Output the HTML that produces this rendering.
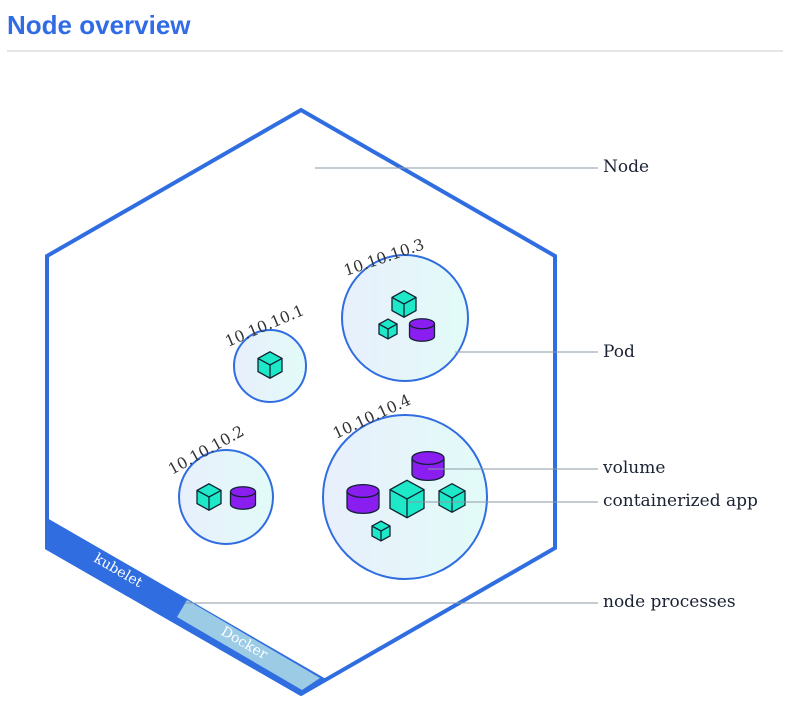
<!DOCTYPE html>
<html><head><style>
body{margin:0;background:#fff;width:798px;height:710px;overflow:hidden}
svg{display:block}
.lbl{font-family:"DejaVu Serif","Liberation Serif",serif;font-size:17px;fill:#1a2233}
.ip{font-family:"DejaVu Serif","Liberation Serif",serif;font-size:15.5px;fill:#333}
.c{fill:#1de9c9;stroke:#123;stroke-width:1.3;vector-effect:non-scaling-stroke}
.v{fill:#8a1ef0;stroke:#123;stroke-width:1.3;vector-effect:non-scaling-stroke}
</style></head><body>
<svg width="798" height="710" viewBox="0 0 798 710">
<defs>
<linearGradient id="g" x1="0" x2="1" y1="0" y2="0"><stop offset="0" stop-color="#e8effc"/><stop offset="1" stop-color="#e2fbf8"/></linearGradient>
<g id="cube">
<polygon class="c" points="0,-1.1 1,-0.55 1,0.55 0,1.1 -1,0.55 -1,-0.55"/>
<polyline class="c" points="-1,-0.55 0,0 1,-0.55" style="fill:none"/>
<line class="c" x1="0" y1="0" x2="0" y2="1.1"/>
</g>
<g id="cyl">
<path class="v" d="M-1,-0.5 L-1,0.5 A1,0.4 0 0 0 1,0.5 L1,-0.5"/>
<ellipse class="v" cx="0" cy="-0.5" rx="1" ry="0.4"/>
</g>
</defs>
<text x="7" y="34" font-family="Liberation Sans,sans-serif" font-size="26" font-weight="bold" fill="#326ce5">Node overview</text>
<line x1="7" y1="51" x2="783" y2="51" stroke="#ccc" stroke-width="1"/>
<polygon points="301,110 555,256 555,548 301,694 47,548 47,256" fill="#fff" stroke="#2f6de0" stroke-width="4"/>
<polygon points="47,518 47,548 301,694 326,679" fill="#2f6de0"/>
<polygon points="187,600 177,617 302,690 320,678" fill="#9ccbe6"/>
<text class="lbl" style="fill:#fff;font-size:14px" transform="translate(93,561) rotate(30)">kubelet</text>
<text class="lbl" style="fill:#fff;font-size:14px" transform="translate(220,634) rotate(30)">Docker</text>
<circle cx="405" cy="318" r="63" fill="url(#g)" stroke="#2f6de0" stroke-width="2"/>
<circle cx="270" cy="366" r="36" fill="url(#g)" stroke="#2f6de0" stroke-width="2"/>
<circle cx="226" cy="497" r="47" fill="url(#g)" stroke="#2f6de0" stroke-width="2"/>
<circle cx="405" cy="497" r="82" fill="url(#g)" stroke="#2f6de0" stroke-width="2"/>
<text class="ip" transform="translate(346,276) rotate(-19)">10.10.10.3</text>
<text class="ip" transform="translate(228,347) rotate(-23)">10.10.10.1</text>
<text class="ip" transform="translate(172,475) rotate(-29)">10.10.10.2</text>
<text class="ip" transform="translate(336,439) rotate(-25)">10.10.10.4</text>
<use href="#cube" transform="translate(404,304) scale(12)"/>
<use href="#cube" transform="translate(388,329) scale(9)"/>
<use href="#cyl" transform="translate(422,330) scale(12.5)"/>
<use href="#cube" transform="translate(270,365) scale(12)"/>
<use href="#cube" transform="translate(209,497) scale(12)"/>
<use href="#cyl" transform="translate(243,498) scale(12.5)"/>
<use href="#cyl" transform="translate(428,466) scale(16)"/>
<use href="#cyl" transform="translate(363,499) scale(16)"/>
<use href="#cube" transform="translate(407,499) scale(17)"/>
<use href="#cube" transform="translate(452,498) scale(13)"/>
<use href="#cube" transform="translate(381,531) scale(9)"/>
<g stroke="#8a9aa6" stroke-width="1">
<line x1="315" y1="168" x2="598" y2="168"/>
<line x1="455" y1="352" x2="598" y2="352"/>
<line x1="428" y1="469" x2="598" y2="469"/>
<line x1="408" y1="502" x2="598" y2="502"/>
<line x1="185" y1="603" x2="598" y2="603"/>
</g>
<text class="lbl" x="603" y="172">Node</text>
<text class="lbl" x="603" y="357">Pod</text>
<text class="lbl" x="603" y="473">volume</text>
<text class="lbl" x="603" y="506">containerized app</text>
<text class="lbl" x="603" y="607">node processes</text>
</svg>
</body></html>
